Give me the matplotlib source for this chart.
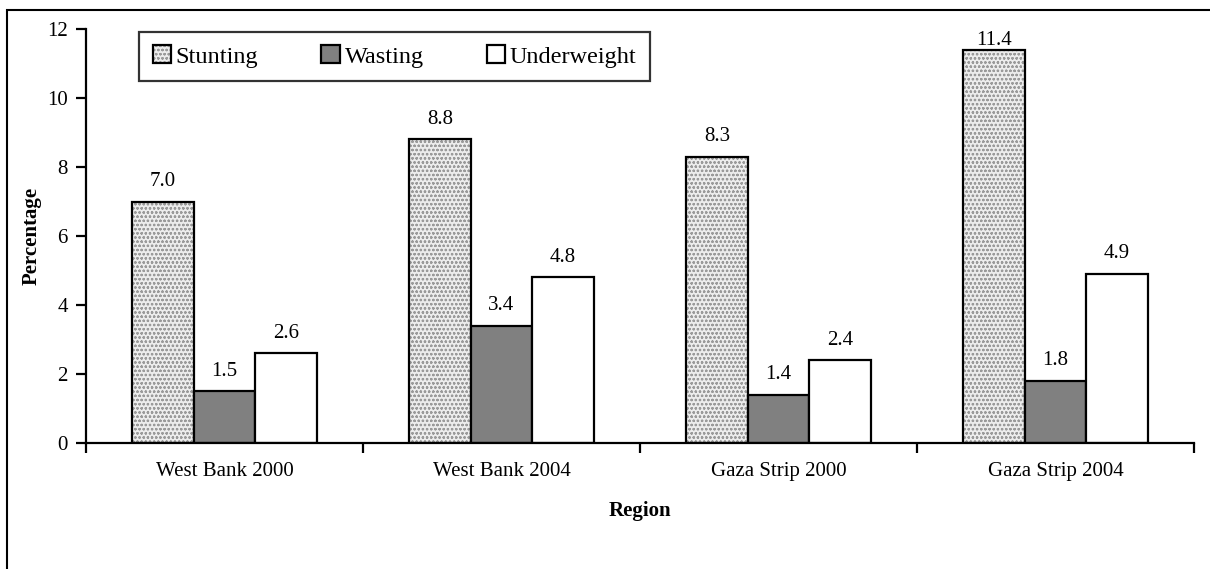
import numpy as np
import matplotlib.pyplot as plt
from matplotlib.patches import Rectangle

plt.rcParams['font.family'] = ['Liberation Serif', 'DejaVu Serif']

regions = ['West Bank 2000', 'West Bank 2004', 'Gaza Strip 2000', 'Gaza Strip 2004']
stunting = [7.0, 8.8, 8.3, 11.4]
wasting = [1.5, 3.4, 1.4, 1.8]
underweight = [2.6, 4.8, 2.4, 4.9]

fig = plt.figure(figsize=(12.1, 5.69), dpi=100)
ax = fig.add_axes([86/1210, 1-443/569, (1194-86)/1210, (443-29)/569])

x = np.arange(len(regions))
w = 0.222

# stunting: dotted texture + black outline on top
plt.rcParams['hatch.linewidth'] = 0.6
b1 = ax.bar(x - w, stunting, w, color='#ececec', edgecolor='#9a9a9a', hatch='oooo', linewidth=0)
b1o = ax.bar(x - w, stunting, w, fill=False, edgecolor='black', linewidth=1.6)
b2 = ax.bar(x, wasting, w, color='#808080', edgecolor='black', linewidth=1.6)
b3 = ax.bar(x + w, underweight, w, color='white', edgecolor='black', linewidth=1.6)

for offs, vals in [(-w, stunting), (0, wasting), (w, underweight)]:
    for xi, v in zip(x, vals):
        ax.text(xi + offs, min(v + 0.45, 11.55), '%.1f' % v, ha='center', va='baseline', fontsize=15)

ax.set_xlim(-0.5, 3.5)
ax.set_ylim(0, 12)
ax.set_yticks(range(0, 13, 2))
ax.set_xticks(np.arange(-0.5, 4, 1))
ax.set_xticklabels([])
ax.set_xticks(x, minor=True)
ax.set_xticklabels(regions, minor=True)
ax.tick_params(axis='x', which='minor', length=0, pad=14, labelsize=15)
ax.tick_params(axis='x', which='major', length=7, width=1.6, direction='out')
ax.tick_params(axis='y', length=7, width=1.6, pad=6, labelsize=15)
for s in ['top', 'right']:
    ax.spines[s].set_visible(False)
for s in ['left', 'bottom']:
    ax.spines[s].set_linewidth(1.6)

ax.set_ylabel('Percentage', fontsize=15, fontweight='bold', labelpad=4)
ax.set_xlabel('Region', fontsize=15, fontweight='bold', labelpad=14)

leg = ax.legend([(b1, b1o), b2, b3], ['Stunting', 'Wasting', 'Underweight'],
                ncol=3, loc='upper left', bbox_to_anchor=(0.048, 0.993), borderaxespad=0,
                fontsize=17.5, frameon=True, fancybox=False, handlelength=0.75, handleheight=0.75,
                handletextpad=0.2, columnspacing=2.6, borderpad=0.55)
leg.get_frame().set_edgecolor('black')
leg.get_frame().set_linewidth(1.6)

# outer chart frame (only left and top edges fall inside the image)
fig.patches.append(Rectangle((7/1210, -0.5), 2, 0.5 + 1 - 10/569, transform=fig.transFigure,
                             fill=False, edgecolor='black', linewidth=1.5))

fig.savefig('out.png', dpi=100)
